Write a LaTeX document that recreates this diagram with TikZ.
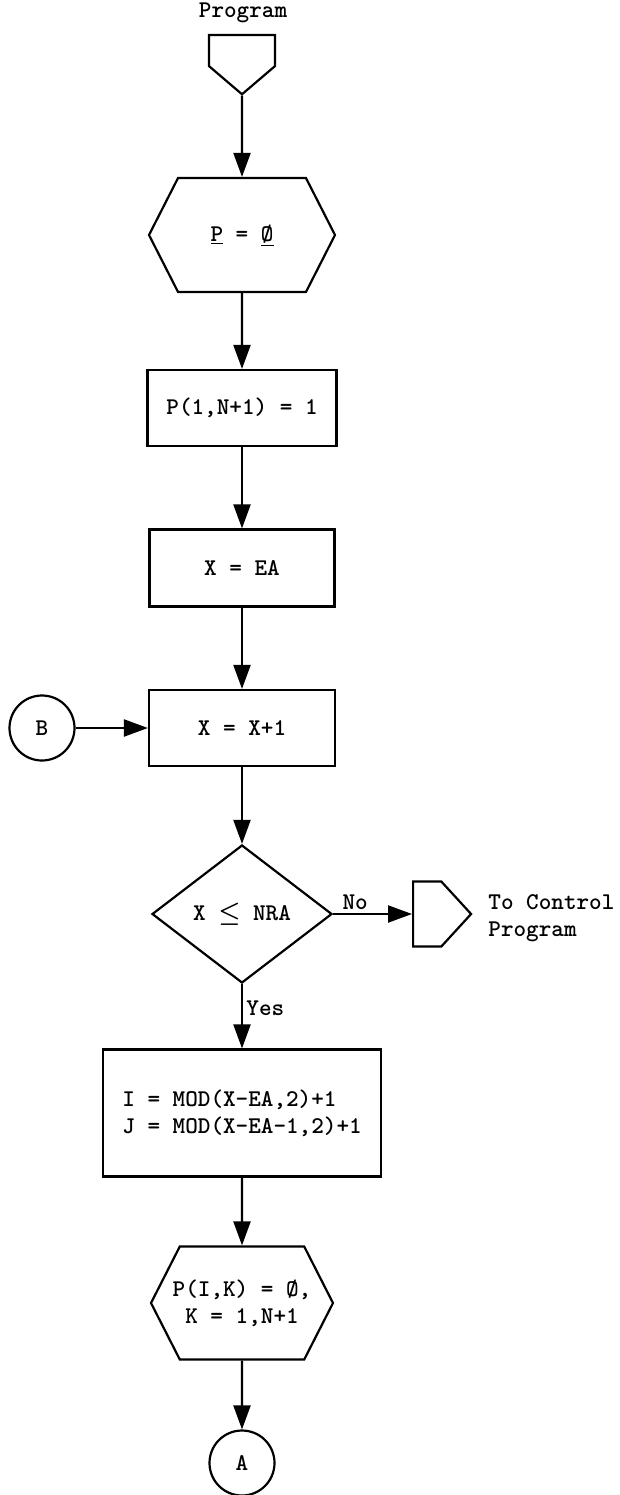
\documentclass[tikz,border=0pt]{standalone}
\usepackage{tikz}
\usetikzlibrary{shapes.geometric,shapes.symbols,arrows.meta,graphs}

\begin{document}
\begin{tikzpicture}[x=1pt, y=-1pt, line width=2.2pt,
	font={\fontsize{24}{27}\selectfont\ttfamily\bfseries\boldmath},
	>={Triangle[length=24pt,width=17pt]},
	boks/.style={draw, rectangle, inner sep=0pt},
	hexa/.style={draw, signal, signal to=west and east, signal pointer angle=126, inner sep=0pt, align=center},
	avsted/.style={draw, signal, signal from=nowhere, inner sep=0pt},
	rute/.style={draw, diamond, aspect=1.3, inner sep=0pt},
	koble/.style={draw, circle, inner sep=0pt, minimum size=65pt}]
	\useasboundingbox (0,0) rectangle (619,1495);
	
	%Figurene
	\node (tittel) at (243,13) {Program};
	\node[avsted, signal to=south, signal pointer angle=99, minimum width=66pt, minimum height=31pt, anchor=north] (start) at (242,34) {};
	\node[hexa, minimum width=186pt, minimum height=114pt] (nullP) at (242,235) {\underline{P} = \underline{\O}};
	\node[boks, minimum width=189pt, minimum height=76pt] (sett1) at (242,408) {P(1,N+1) = 1};
	\node[boks, minimum width=185pt, minimum height=77pt] (startX) at (242,568) {X = EA};
	\node[boks, minimum width=186pt, minimum height=76pt] (neste) at (242,728) {X = X+1};
	\node[koble] (B) at (42,728) {B};
	\node[rute, minimum width=180pt, minimum height=138pt] (test) at (242,914) {X $\leq$ NRA};
	\node[avsted, signal to=east, signal pointer angle=95, minimum width=58pt, minimum height=65pt, anchor=west] (ut) at (412,914) {};
	\node[anchor=west, align=left] (uttekst) at (484,918) {To Control\\Program};
	\node[boks, minimum width=278pt, minimum height=127pt, align=left] (IJ) at (242,1113) {I = MOD(X-EA,2)+1\\J = MOD(X-EA-1,2)+1};
	\node[hexa, inner xsep=-20pt, minimum width=182pt, minimum height=113pt] (nullK) at (242,1303) {P(I,K) = \O,\\K = 1,N+1};
	\node[koble] (A) at (242,1463) {A};
	
	%Pilene
	\graph {
		(start) -> (nullP) -> (sett1) -> (startX) -> (neste) -> (test) ->[edge node={node[right, pos=0.37] {Yes}}] (IJ) -> (nullK) -> (A);
		(B) -> (neste);
		(test) ->[edge node={node[above, pos=0.28] {No}}] (ut);
	};
	
\end{tikzpicture}
\end{document}
